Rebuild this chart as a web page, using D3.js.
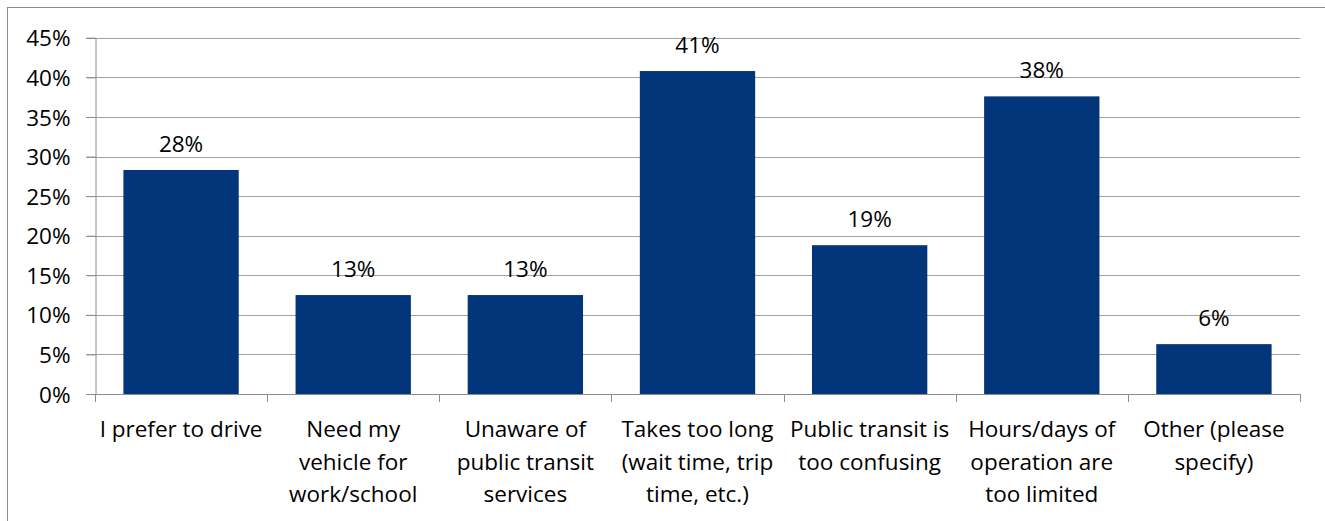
<!DOCTYPE html>
<html>
<head>
<meta charset="utf-8">
<script src="https://cdn.jsdelivr.net/npm/d3@7"></script>
<style>
html,body{margin:0;padding:0;background:#fff;}
svg{display:block;}
text{font-family:"Open Sans","Liberation Sans",sans-serif;fill:#000;}
</style>
</head>
<body>
<svg id="chart" width="1325" height="521"></svg>
<script>
const categories = [
  ["I prefer to drive"],
  ["Need my", "vehicle for", "work/school"],
  ["Unaware of", "public transit", "services"],
  ["Takes too long", "(wait time, trip", "time, etc.)"],
  ["Public transit is", "too confusing"],
  ["Hours/days of", "operation are", "too limited"],
  ["Other (please", "specify)"]
];
const values = [28.3, 12.5, 12.5, 40.8, 18.8, 37.6, 6.3];
const valueLabels = ["28%", "13%", "13%", "41%", "19%", "38%", "6%"];
const yTicks = [0, 5, 10, 15, 20, 25, 30, 35, 40, 45];

const FONT = "'Open Sans','Liberation Sans',sans-serif";
const svg = d3.select("#chart");
const pLeft = 95, pRight = 1300, pTop = 37.8, pBottom = 394;

svg.append("rect").attr("x", 7.5).attr("y", 7.5).attr("width", 1340).attr("height", 540)
  .attr("fill", "none").attr("stroke", "#8c8c8c").attr("stroke-width", 1);

const x = d3.scaleBand().domain(d3.range(categories.length)).range([pLeft, pRight]).paddingInner(0.33).paddingOuter(0.165);
const xb = d3.scaleLinear().domain([0, categories.length]).range([pLeft, pRight]);
const y = d3.scaleLinear().domain([0, 45]).range([pBottom, pTop]);

// gridlines
svg.append("g").selectAll("line").data(yTicks.filter(d => d > 0)).join("line")
  .attr("x1", pLeft - 9).attr("x2", pRight)
  .attr("y1", d => Math.round(y(d)) + 0.5).attr("y2", d => Math.round(y(d)) + 0.5)
  .attr("stroke", "#a0a0a0").attr("stroke-width", 1.2);

// y axis
const yAxis = svg.append("g").attr("transform", `translate(${pLeft + 0.5},0)`)
  .call(d3.axisLeft(y).tickValues(yTicks).tickSize(9).tickFormat(d => d + "%").tickPadding(16));
yAxis.select(".domain").attr("stroke", "#8c8c8c");
yAxis.selectAll(".tick line").attr("stroke", "#8c8c8c");
yAxis.selectAll("text").attr("font-size", 22.5).attr("fill", "#000").attr("font-family", FONT).attr("dy", "0.36em");

// x axis
const xg = svg.append("g");
xg.append("line").attr("x1", pLeft).attr("x2", pRight).attr("y1", pBottom + 0.5).attr("y2", pBottom + 0.5)
  .attr("stroke", "#8c8c8c").attr("stroke-width", 1.2);
xg.selectAll("line.tk").data(d3.range(categories.length + 1)).join("line").attr("class", "tk")
  .attr("x1", d => Math.round(xb(d)) + 0.5).attr("x2", d => Math.round(xb(d)) + 0.5)
  .attr("y1", pBottom).attr("y2", pBottom + 8).attr("stroke", "#8c8c8c");

// bars
svg.append("g").selectAll("rect").data(values).join("rect")
  .attr("x", (d, i) => x(i)).attr("width", x.bandwidth())
  .attr("y", d => y(d)).attr("height", d => pBottom - y(d))
  .attr("fill", "#03357a");

// value labels
svg.append("g").selectAll("text").data(values).join("text")
  .attr("x", (d, i) => x(i) + x.bandwidth() / 2).attr("y", d => y(d) - 18)
  .attr("text-anchor", "middle").attr("font-size", 22.5)
  .text((d, i) => valueLabels[i]);

// category labels
const cl = svg.append("g").selectAll("text").data(categories).join("text")
  .attr("text-anchor", "middle").attr("font-size", 22.5)
  .attr("x", (d, i) => x(i) + x.bandwidth() / 2).attr("y", 437);
cl.selectAll("tspan").data(d => d).join("tspan")
  .attr("x", function() { return this.parentNode.getAttribute("x"); })
  .attr("dy", (d, j) => j === 0 ? 0 : 32.5)
  .text(d => d);
</script>
</body>
</html>
